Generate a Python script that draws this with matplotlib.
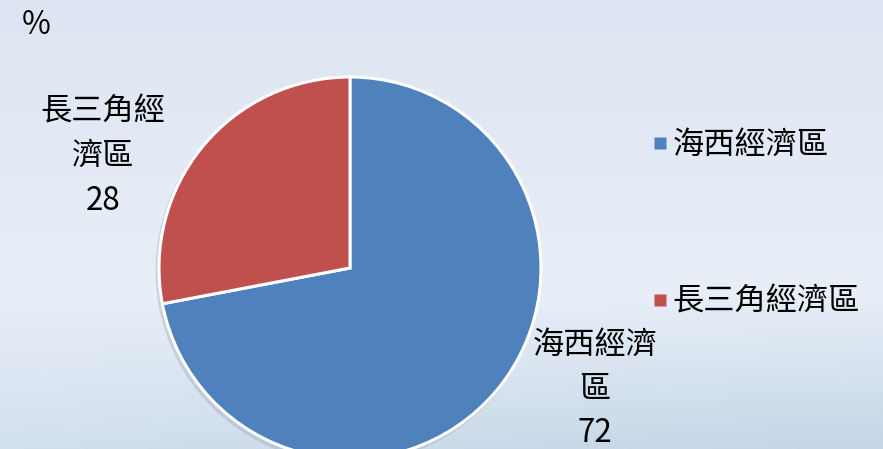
import numpy as np
import matplotlib.pyplot as plt
from matplotlib.lines import Line2D

plt.rcParams['font.family'] = ['Noto Sans CJK TC', 'DejaVu Sans']
plt.rcParams['font.weight'] = 'light'

# data
regions = ['海西經濟區', '長三角經濟區']
shares = [72, 28]
colors = ['#4F81BD', '#C0504D']
# wrapped labels as shown next to the wedges
wrapped = ['海西經濟\n區', '長三角經\n濟區']

W, H = 883, 449
fig = plt.figure(figsize=(W / 100, H / 100), dpi=100)

# background: pale sky fading into a bluish sea at the bottom
bg = fig.add_axes([0, 0, 1, 1], zorder=0)
yy = np.linspace(0, 1, H)[:, None]
xx = np.linspace(0, 1, W)[None, :]
top = np.array([221, 229, 242]) / 255
mid = np.array([232, 239, 248]) / 255
low = np.array([196, 213, 230]) / 255
t1 = np.clip(yy / 0.65, 0, 1)[..., None]
t2 = np.clip((yy - 0.65) / 0.35, 0, 1)[..., None] * (0.6 + 0.4 * xx)[..., None]
img = top * (1 - t1) + mid * t1
img = img * (1 - t2) + low * t2
bg.imshow(img, aspect='auto', extent=(0, W, H, 0))
bg.set_axis_off()

ax = fig.add_axes([0, 0, 1, 1], zorder=1)
ax.set_axis_off()

cx, cy, r = 350, H - 268, 191
# soft shadow
ax.add_patch(plt.Circle((cx - 2, cy - 3), r + 1.5, color='#8a98ab', alpha=0.3, lw=0))
wedges, _ = ax.pie(shares, colors=colors, startangle=90, counterclock=False,
                   center=(cx, cy), radius=r,
                   wedgeprops=dict(edgecolor='white', linewidth=2.2))
ax.set_xlim(0, W)
ax.set_ylim(0, H)
ax.set_aspect('auto')

fs = 22.5
label_pos = [(595, H - 389), (103, H - 156)]
for (lx, ly), name, val in zip(label_pos, wrapped, shares):
    ax.text(lx, ly, f'{name}\n{val}', ha='center', va='center', fontsize=fs,
            linespacing=1.5, color='black')

ax.text(22, H - 25, '%', fontsize=fs, va='center', ha='left')

handles = [Line2D([], [], marker='s', linestyle='none', markersize=8,
                  markerfacecolor=c, markeredgecolor='none') for c in colors]
fig.legend(handles, regions, loc='upper left', bbox_to_anchor=(632 / W, 1 - 113 / H),
           frameon=False, fontsize=fs, labelspacing=4.0, handletextpad=0.0,
           handlelength=0.8, borderpad=0)

fig.savefig('out.png', dpi=100)
